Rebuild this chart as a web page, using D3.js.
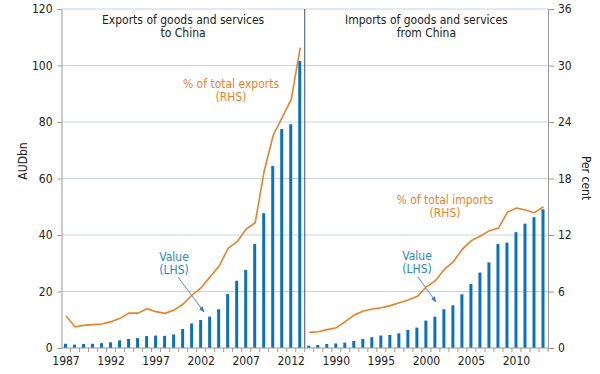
<!DOCTYPE html>
<html>
<head>
<meta charset="utf-8">
<script src="https://cdn.jsdelivr.net/npm/d3@7"></script>
<style>
  body { margin: 0; background: #fff; }
  svg text { font-family: "DejaVu Sans Condensed", "DejaVu Sans", sans-serif; font-size: 12px; fill: #222; }
</style>
</head>
<body>
<div id="chart"></div>
<script>
var years = [1987, 1988, 1989, 1990, 1991, 1992, 1993, 1994, 1995, 1996, 1997, 1998, 1999,
  2000, 2001, 2002, 2003, 2004, 2005, 2006, 2007, 2008, 2009, 2010, 2011, 2012, 2013];

// AUDbn, LHS
var exportsValue = [1.5, 1.2, 1.4, 1.5, 1.7, 2.0, 2.7, 3.2, 3.5, 4.2, 4.4, 4.3, 4.8,
  6.7, 8.7, 9.9, 11.1, 13.7, 19.1, 23.8, 27.6, 36.8, 47.7, 64.4, 77.5, 79.2, 101.6];
var importsValue = [0.8, 1.06, 1.4, 1.6, 1.9, 2.5, 3.2, 3.8, 4.4, 4.6, 5.2, 6.4, 7.2,
  9.7, 11.1, 13.7, 15.1, 19.0, 22.7, 26.7, 30.3, 36.8, 37.3, 41.0, 44.0, 46.3, 49.1];

// per cent of total, RHS
var exportsShare = [3.4, 2.26, 2.4, 2.48, 2.55, 2.8, 3.15, 3.7, 3.7, 4.18, 3.86, 3.68, 4.03,
  4.67, 5.63, 6.4, 7.57, 8.7, 10.6, 11.3, 12.64, 13.3, 18.8, 22.6, 24.5, 26.4, 31.9];
var importsShare = [1.66, 1.73, 1.95, 2.16, 2.8, 3.5, 3.93, 4.14, 4.28, 4.5, 4.8, 5.1, 5.5,
  6.5, 7.15, 8.35, 9.17, 10.5, 11.4, 11.9, 12.46, 12.74, 14.44, 14.87, 14.65, 14.37, 15.0];

var leftTicks = [0, 20, 40, 60, 80, 100, 120];
var rightTicks = [0, 6, 12, 18, 24, 30, 36];
var exportsYearLabels = [1987, 1992, 1997, 2002, 2007, 2012];
var importsYearLabels = [1990, 1995, 2000, 2005, 2010];

var blue = "#0b72b9", orange = "#e8822a", grid = "#c9d5dd", axisGrey = "#9a9a9a";

// NB: "top" is a read-only window global, so use plotTop
var plotLeft = 61.5, plotRight = 548, plotMid = (plotLeft + plotRight) / 2, plotTop = 9, plotBottom = 348;

var svg = d3.select("#chart")
  .append("svg")
  .attr("width", 600)
  .attr("height", 374);

var yL = d3.scaleLinear().domain([0, 120]).range([plotBottom, plotTop]);
var yR = d3.scaleLinear().domain([0, 36]).range([plotBottom, plotTop]);

// gridlines
svg.append("g")
  .selectAll("line")
  .data(leftTicks.slice(1))
  .enter()
  .append("line")
  .attr("x1", plotLeft)
  .attr("x2", plotRight)
  .attr("y1", function(d) { return yL(d); })
  .attr("y2", function(d) { return yL(d); })
  .style("stroke", grid)
  .style("stroke-width", "1.2px");

// left axis
var axL = svg.append("g")
  .attr("transform", "translate(" + plotLeft + ",0)")
  .call(d3.axisLeft(yL).tickValues(leftTicks).tickSize(4).tickPadding(5));
axL.select(".domain").style("stroke", axisGrey);
axL.selectAll(".tick line").style("stroke", axisGrey);
axL.selectAll("text").style("font-size", "12px").style("fill", "#222");

// right axis
var axR = svg.append("g")
  .attr("transform", "translate(" + plotRight + ",0)")
  .call(d3.axisRight(yR).tickValues(rightTicks).tickSize(6).tickPadding(4));
axR.select(".domain").style("stroke", axisGrey);
axR.selectAll(".tick line").style("stroke", axisGrey);
axR.selectAll("text").style("font-size", "12px").style("fill", "#222");

svg.append("text")
  .attr("transform", "translate(27,161) rotate(-90)")
  .attr("text-anchor", "middle")
  .text("AUDbn");

svg.append("text")
  .attr("transform", "translate(582,178) rotate(90)")
  .attr("text-anchor", "middle")
  .text("Per cent");

function drawPanel(x0, x1, values, shares, labelYears, opts) {
  var x = d3.scaleBand().domain(years).range([x0, x1]);
  var g = svg.append("g");

  // year labels
  var ax = g.append("g")
    .attr("transform", "translate(0," + plotBottom + ")")
    .call(d3.axisBottom(x).tickValues(labelYears).tickSize(0).tickPadding(8));
  ax.select(".domain").remove();
  ax.selectAll("text").style("font-size", "12px").style("fill", "#222");

  // small ticks between bars
  g.selectAll("line.yt")
    .data(years)
    .enter()
    .append("line")
    .attr("class", "yt")
    .attr("x1", function(d) { return x(d) + x.bandwidth(); })
    .attr("x2", function(d) { return x(d) + x.bandwidth(); })
    .attr("y1", plotBottom)
    .attr("y2", plotBottom + 4)
    .style("stroke", axisGrey);

  var bw = 3;
  g.selectAll("rect")
    .data(values)
    .enter()
    .append("rect")
    .attr("x", function(d, i) { return x(years[i]) + x.bandwidth() / 2 - bw / 2 - 0.5; })
    .attr("y", function(d) { return yL(d); })
    .attr("width", bw)
    .attr("height", function(d) { return plotBottom - yL(d); })
    .style("fill", blue);

  var line = d3.line()
    .x(function(d, i) { return x(years[i]) + x.bandwidth() / 2; })
    .y(function(d) { return yR(d); });

  g.append("path")
    .datum(shares)
    .attr("d", line)
    .style("fill", "none")
    .style("stroke", orange)
    .style("stroke-width", "1.6px");

  // panel title
  var cx = (x0 + x1) / 2;
  g.append("text").attr("x", cx).attr("y", 24).attr("text-anchor", "middle").text(opts.title[0]);
  g.append("text").attr("x", cx).attr("y", 37).attr("text-anchor", "middle").text(opts.title[1]);

  // share label
  g.append("text").attr("x", opts.share[0]).attr("y", opts.share[1])
    .attr("text-anchor", "middle").style("fill", orange).text(opts.shareText);
  g.append("text").attr("x", opts.share[0]).attr("y", opts.share[1] + 13)
    .attr("text-anchor", "middle").style("fill", orange).text("(RHS)");

  // value label + arrow
  g.append("text").attr("x", opts.value[0]).attr("y", opts.value[1])
    .attr("text-anchor", "middle").style("fill", "#2a86c8").text("Value");
  g.append("text").attr("x", opts.value[0]).attr("y", opts.value[1] + 13)
    .attr("text-anchor", "middle").style("fill", "#2a86c8").text("(LHS)");

  g.append("line")
    .attr("x1", opts.arrow[0])
    .attr("y1", opts.arrow[1])
    .attr("x2", opts.arrow[2])
    .attr("y2", opts.arrow[3])
    .style("stroke", "#5b8fbe")
    .style("stroke-width", "1px")
    .attr("marker-end", "url(#arrowhead)");
}

svg.append("defs")
  .append("marker")
  .attr("id", "arrowhead")
  .attr("viewBox", "0 0 10 10")
  .attr("refX", 9)
  .attr("refY", 5)
  .attr("markerWidth", 6)
  .attr("markerHeight", 6)
  .attr("orient", "auto")
  .append("path")
  .attr("d", "M0,1 L10,5 L0,9 z")
  .style("fill", "#3d7fb8");

drawPanel(plotLeft, plotMid, exportsValue, exportsShare, exportsYearLabels, {
  title: ["Exports of goods and services", "to China"],
  shareText: "% of total exports",
  share: [231, 88],
  value: [174, 261],
  arrow: [178, 277, 204, 312]
});

drawPanel(plotMid, plotRight, importsValue, importsShare, importsYearLabels, {
  title: ["Imports of goods and services", "from China"],
  shareText: "% of total imports",
  share: [445, 204],
  value: [417, 260],
  arrow: [418, 277, 436, 302]
});

// divider and baseline
svg.append("line")
  .attr("x1", plotMid).attr("x2", plotMid)
  .attr("y1", plotTop).attr("y2", plotBottom)
  .style("stroke", "#3b4f63")
  .style("stroke-width", "1px");

svg.append("line")
  .attr("x1", plotLeft).attr("x2", plotRight)
  .attr("y1", plotBottom).attr("y2", plotBottom)
  .style("stroke", axisGrey);
</script>
</body>
</html>
